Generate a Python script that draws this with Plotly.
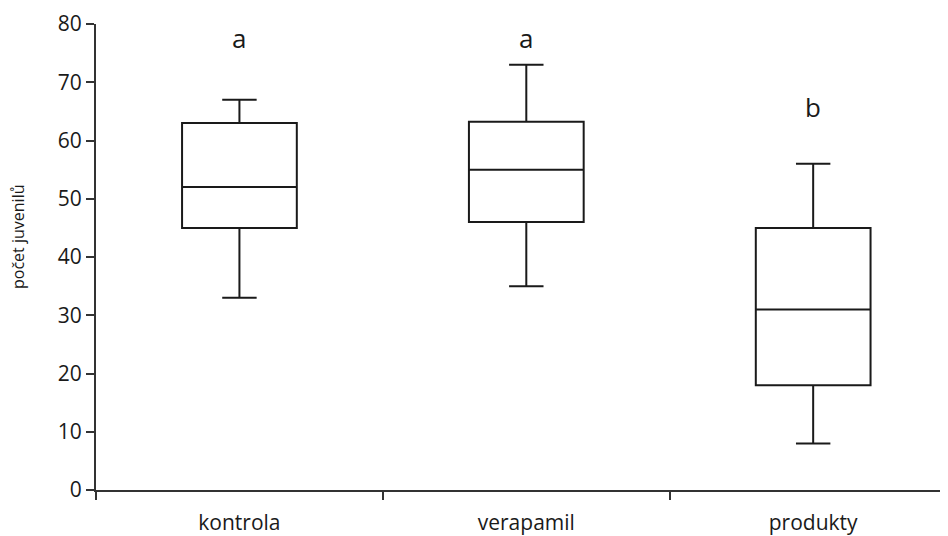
import plotly.graph_objects as go

categories = ["kontrola", "verapamil", "produkty"]
lower_whisker = [33, 35, 8]
q1_values = [45, 46, 18]
median_values = [52, 55, 31]
q3_values = [63, 63.2, 45]
upper_whisker = [67, 73, 56]
group_letters = ["a", "a", "b"]
letter_y = [77.6, 77.6, 65.7]

LINE = "#1a1a1a"
AXIS = "#333333"
FONT = "Open Sans"

fig = go.Figure()
fig.add_trace(go.Box(
    x=categories,
    q1=q1_values,
    median=median_values,
    q3=q3_values,
    lowerfence=lower_whisker,
    upperfence=upper_whisker,
    boxpoints=False,
    fillcolor="white",
    line=dict(color=LINE, width=2),
    whiskerwidth=0.3,
    showlegend=False,
    hoverinfo="skip",
))

for cat, letter, ly in zip(categories, group_letters, letter_y):
    fig.add_annotation(x=cat, y=ly, text=letter, showarrow=False,
                       xanchor="center", yanchor="middle",
                       font=dict(family=FONT, size=26, color="#1a1a1a"))

# y-axis title, placed as rotated text left of the tick labels
fig.add_annotation(xref="paper", yref="paper", x=0, y=0.543, xshift=-78,
                   text="počet juvenilů", textangle=-90, showarrow=False,
                   xanchor="center", yanchor="middle",
                   font=dict(family=FONT, size=16, color="#1a1a1a"))

# page body has an 8px margin, so the figure is 8px smaller each way
fig.update_layout(
    width=940, height=528,
    margin=dict(l=88, r=0, t=16, b=44),
    paper_bgcolor="white", plot_bgcolor="white",
    boxgap=0.6, boxgroupgap=0,
    font=dict(family=FONT, color="#1a1a1a"),
)
fig.update_xaxes(
    type="category",
    range=[-0.5, 2.47],
    showline=True, linecolor=AXIS, linewidth=2,
    ticks="outside", tickson="boundaries", ticklen=8, tickwidth=1.5, tickcolor=AXIS,
    showgrid=False, zeroline=False,
    tickfont=dict(family=FONT, size=21, color="#1a1a1a"),
    ticklabelstandoff=13,
)
fig.update_yaxes(
    range=[0, 80], dtick=10,
    showline=True, linecolor=AXIS, linewidth=2,
    ticks="outside", ticklen=8, tickwidth=1.5, tickcolor=AXIS,
    showgrid=False, zeroline=False,
    tickfont=dict(family=FONT, size=21, color="#1a1a1a"),
)

fig.write_html("out.html")
